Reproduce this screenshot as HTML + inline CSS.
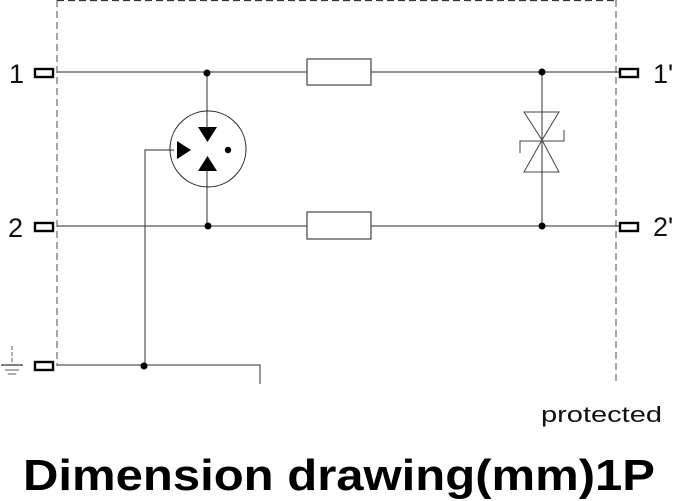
<!DOCTYPE html>
<html><head><meta charset="utf-8"><style>
html,body{margin:0;padding:0;background:#fff;}
svg{display:block;}
</style></head><body>
<svg width="676" height="501" viewBox="0 0 676 501" xmlns="http://www.w3.org/2000/svg" font-family="Liberation Sans, sans-serif">
<g stroke="#777" stroke-width="1.3" stroke-dasharray="7,4" fill="none">
<line x1="57" y1="0" x2="57" y2="366"/>
<line x1="616" y1="0" x2="616" y2="382"/>
</g>
<line x1="57" y1="0.5" x2="616" y2="0.5" stroke="#333" stroke-width="1.3" stroke-dasharray="7,4"/>
<g stroke="#555" stroke-width="1.2" fill="none">
<line x1="57" y1="72" x2="307" y2="72"/>
<line x1="371" y1="72" x2="619" y2="72"/>
<line x1="57" y1="226" x2="307" y2="226"/>
<line x1="371" y1="226" x2="619" y2="226"/>
<line x1="207" y1="72" x2="207" y2="130"/>
<line x1="207" y1="165" x2="207" y2="226"/>
<polyline points="174,150 145,150 145,366"/>
<polyline points="57,365 260,365 260,384"/>
<line x1="542" y1="72" x2="542" y2="226"/>
</g>
<rect x="307" y="59" width="64" height="26" fill="#fff" stroke="#444" stroke-width="1.2"/>
<rect x="307" y="212" width="64" height="27" fill="#fff" stroke="#444" stroke-width="1.2"/>
<circle cx="208" cy="149" r="38" fill="none" stroke="#222" stroke-width="1"/>
<polygon points="198,127 217,127 207.5,142" fill="#000"/>
<polygon points="198,171 217,171 207.5,156" fill="#000"/>
<polygon points="177,141 177,159 191,150" fill="#000"/>
<circle cx="228" cy="150" r="3.2" fill="#000"/>
<g stroke="#444" stroke-width="1" fill="none">
<polygon points="524,112 559,112 542,140"/>
<polygon points="524,172 559,172 542,140"/>
<polyline points="520,153 520,141 564,141 564,130"/>
</g>
<g fill="#000">
<circle cx="207" cy="73" r="3.5"/>
<circle cx="208" cy="226" r="3.5"/>
<circle cx="542" cy="72" r="3.5"/>
<circle cx="542" cy="226" r="3.5"/>
<circle cx="144" cy="366" r="3.5"/>
</g>
<g fill="#fff" stroke="#000" stroke-width="2.4">
<rect x="35" y="69" width="18" height="8"/>
<rect x="35" y="223" width="18" height="8"/>
<rect x="35" y="362" width="18" height="8"/>
<rect x="620" y="69" width="18" height="8"/>
<rect x="620" y="223" width="18" height="8"/>
</g>
<g stroke="#777" stroke-width="1.2">
<line x1="12" y1="346" x2="12" y2="364" stroke-dasharray="4,2"/>
<line x1="1" y1="365" x2="23" y2="365" stroke="#333"/>
<line x1="5" y1="370" x2="19" y2="370"/>
<line x1="8" y1="374" x2="16" y2="374"/>
</g>
<g font-size="27" fill="#111">
<text x="9" y="83">1</text>
<text x="8" y="237">2</text>
<text x="653" y="83">1'</text>
<text x="653" y="236">2'</text>
</g>
<text x="541" y="422" font-size="22" fill="#111" textLength="121" lengthAdjust="spacingAndGlyphs">protected</text>
<text x="23" y="490" font-size="44" font-weight="bold" fill="#000" textLength="632" lengthAdjust="spacingAndGlyphs">Dimension drawing(mm)1P</text>
</svg>
</body></html>
